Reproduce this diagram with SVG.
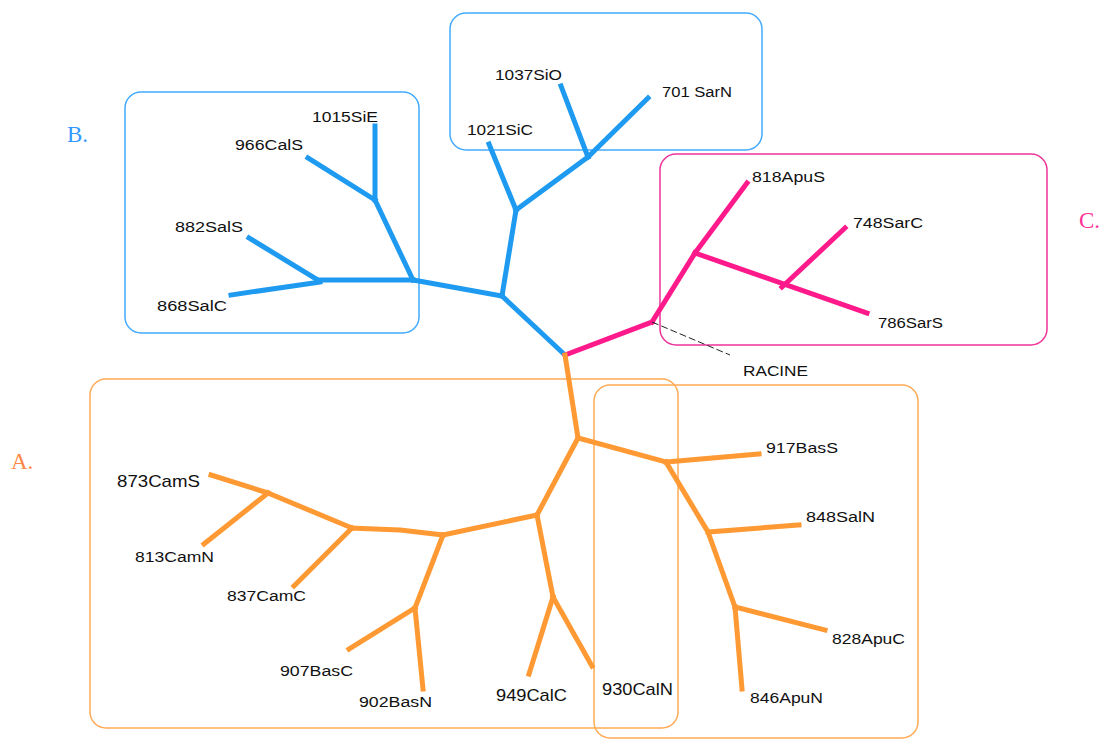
<svg xmlns="http://www.w3.org/2000/svg" width="1105" height="740" viewBox="0 0 1105 740">
<style>
.bg{fill:#ffffff}
.box{fill:none;stroke-width:1.5}
.bb{stroke:#44aaff}
.pb{stroke:#ee3399}
.ob{stroke:#ffaa55}
.e{fill:none;stroke-width:5;stroke-linecap:square;stroke-linejoin:round}
.blue{stroke:#1e9af0}
.pink{stroke:#ff1a8c}
.orange{stroke:#ff9933}
.lbl{font-family:"Liberation Sans",Arial,sans-serif;font-size:14px;fill:#111111}
.big{font-size:17px}
.grp{font-family:"Liberation Serif","Times New Roman",serif;font-size:23px}
</style>
<rect class="bg" x="0" y="0" width="1105" height="740"/>
<g id="boxes">
<rect class="box bb" x="125" y="92" width="294" height="241" rx="16"/>
<rect class="box bb" x="450" y="13" width="312" height="137" rx="16"/>
<rect class="box pb" x="660" y="154" width="387" height="191" rx="16"/>
<rect class="box ob" x="90" y="379" width="588" height="349" rx="16"/>
<rect class="box ob" x="594" y="385" width="324" height="353" rx="16"/>
</g>
<g id="connectors">
<g class="e blue">
<line x1="565" y1="355" x2="502" y2="296"/>
<line x1="502" y1="296" x2="413" y2="280"/>
<line x1="413" y1="280" x2="375" y2="200"/>
<line x1="375" y1="200" x2="375" y2="126"/>
<line x1="375" y1="200" x2="308" y2="158"/>
<line x1="413" y1="280" x2="318" y2="280"/>
<line x1="318" y1="280" x2="249" y2="238"/>
<line x1="320" y1="282" x2="231" y2="295"/>
<line x1="502" y1="296" x2="516" y2="210"/>
<line x1="516" y1="210" x2="489" y2="144"/>
<line x1="516" y1="210" x2="588" y2="157"/>
<line x1="588" y1="157" x2="561" y2="86"/>
<line x1="588" y1="157" x2="648" y2="98"/>
</g>
<g class="e pink">
<line x1="565" y1="355" x2="652" y2="322"/>
<line x1="652" y1="322" x2="695" y2="253"/>
<line x1="695" y1="253" x2="747" y2="183"/>
<line x1="695" y1="253" x2="867" y2="313"/>
<line x1="782" y1="287" x2="845" y2="228"/>
</g>
<line x1="652" y1="322" x2="730" y2="355" stroke="#222222" stroke-width="1" stroke-dasharray="7,3"/>
<g class="e orange">
<line x1="565" y1="355" x2="578" y2="438"/>
<line x1="578" y1="438" x2="666" y2="462"/>
<line x1="666" y1="462" x2="759" y2="454"/>
<line x1="666" y1="462" x2="708" y2="532"/>
<line x1="708" y1="532" x2="799" y2="525"/>
<line x1="708" y1="532" x2="735" y2="607"/>
<line x1="735" y1="607" x2="825" y2="630"/>
<line x1="735" y1="607" x2="742" y2="689"/>
<line x1="578" y1="438" x2="537" y2="515"/>
<line x1="537" y1="515" x2="553" y2="597"/>
<line x1="553" y1="597" x2="529" y2="674"/>
<line x1="553" y1="597" x2="592" y2="666"/>
<line x1="537" y1="515" x2="443" y2="535"/>
<line x1="443" y1="535" x2="415" y2="608"/>
<line x1="415" y1="608" x2="349" y2="649"/>
<line x1="415" y1="608" x2="423" y2="689"/>
<polyline points="443,535 400,530 352,528"/>
<line x1="352" y1="528" x2="294" y2="586"/>
<line x1="352" y1="528" x2="268" y2="493"/>
<line x1="268" y1="493" x2="211" y2="475"/>
<line x1="268" y1="493" x2="204" y2="544"/>
</g>
</g>
<g id="group-labels">
<text class="grp" x="67" y="142" fill="#3399ff">B.</text>
<text class="grp" x="11" y="469" fill="#ff8844">A.</text>
<text class="grp" x="1079" y="228" fill="#ff3399">C.</text>
</g>
<g id="n1015SiE"><text class="lbl" x="312" y="122" textLength="66" lengthAdjust="spacingAndGlyphs">1015SiE</text></g>
<g id="n966CalS"><text class="lbl" x="235" y="150" textLength="68" lengthAdjust="spacingAndGlyphs">966CalS</text></g>
<g id="n882SalS"><text class="lbl" x="175" y="232" textLength="68" lengthAdjust="spacingAndGlyphs">882SalS</text></g>
<g id="n868SalC"><text class="lbl" x="157" y="311" textLength="70" lengthAdjust="spacingAndGlyphs">868SalC</text></g>
<g id="n1037SiO"><text class="lbl" x="495" y="80" textLength="67" lengthAdjust="spacingAndGlyphs">1037SiO</text></g>
<g id="n701SarN"><text class="lbl" x="662" y="97" textLength="70" lengthAdjust="spacingAndGlyphs">701 SarN</text></g>
<g id="n1021SiC"><text class="lbl" x="467" y="135" textLength="66" lengthAdjust="spacingAndGlyphs">1021SiC</text></g>
<g id="n818ApuS"><text class="lbl" x="752" y="182" textLength="73" lengthAdjust="spacingAndGlyphs">818ApuS</text></g>
<g id="n748SarC"><text class="lbl" x="853" y="228" textLength="70" lengthAdjust="spacingAndGlyphs">748SarC</text></g>
<g id="n786SarS"><text class="lbl" x="878" y="328" textLength="65" lengthAdjust="spacingAndGlyphs">786SarS</text></g>
<g id="nRACINE"><text class="lbl" x="743" y="376" font-size="16" textLength="65" lengthAdjust="spacingAndGlyphs">RACINE</text></g>
<g id="n873CamS"><text class="lbl big" x="117" y="487" textLength="83" lengthAdjust="spacingAndGlyphs">873CamS</text></g>
<g id="n813CamN"><text class="lbl" x="135" y="562" textLength="79" lengthAdjust="spacingAndGlyphs">813CamN</text></g>
<g id="n837CamC"><text class="lbl" x="227" y="601" textLength="79" lengthAdjust="spacingAndGlyphs">837CamC</text></g>
<g id="n907BasC"><text class="lbl" x="280" y="676" textLength="73" lengthAdjust="spacingAndGlyphs">907BasC</text></g>
<g id="n902BasN"><text class="lbl" x="359" y="707" textLength="73" lengthAdjust="spacingAndGlyphs">902BasN</text></g>
<g id="n949CalC"><text class="lbl big" x="496" y="701" textLength="71" lengthAdjust="spacingAndGlyphs">949CalC</text></g>
<g id="n930CalN"><text class="lbl big" x="602" y="695" textLength="71" lengthAdjust="spacingAndGlyphs">930CalN</text></g>
<g id="n917BasS"><text class="lbl" x="766" y="453" textLength="72" lengthAdjust="spacingAndGlyphs">917BasS</text></g>
<g id="n848SalN"><text class="lbl" x="806" y="522" textLength="69" lengthAdjust="spacingAndGlyphs">848SalN</text></g>
<g id="n828ApuC"><text class="lbl" x="832" y="644" textLength="73" lengthAdjust="spacingAndGlyphs">828ApuC</text></g>
<g id="n846ApuN"><text class="lbl" x="750" y="703" textLength="73" lengthAdjust="spacingAndGlyphs">846ApuN</text></g>
</svg>
